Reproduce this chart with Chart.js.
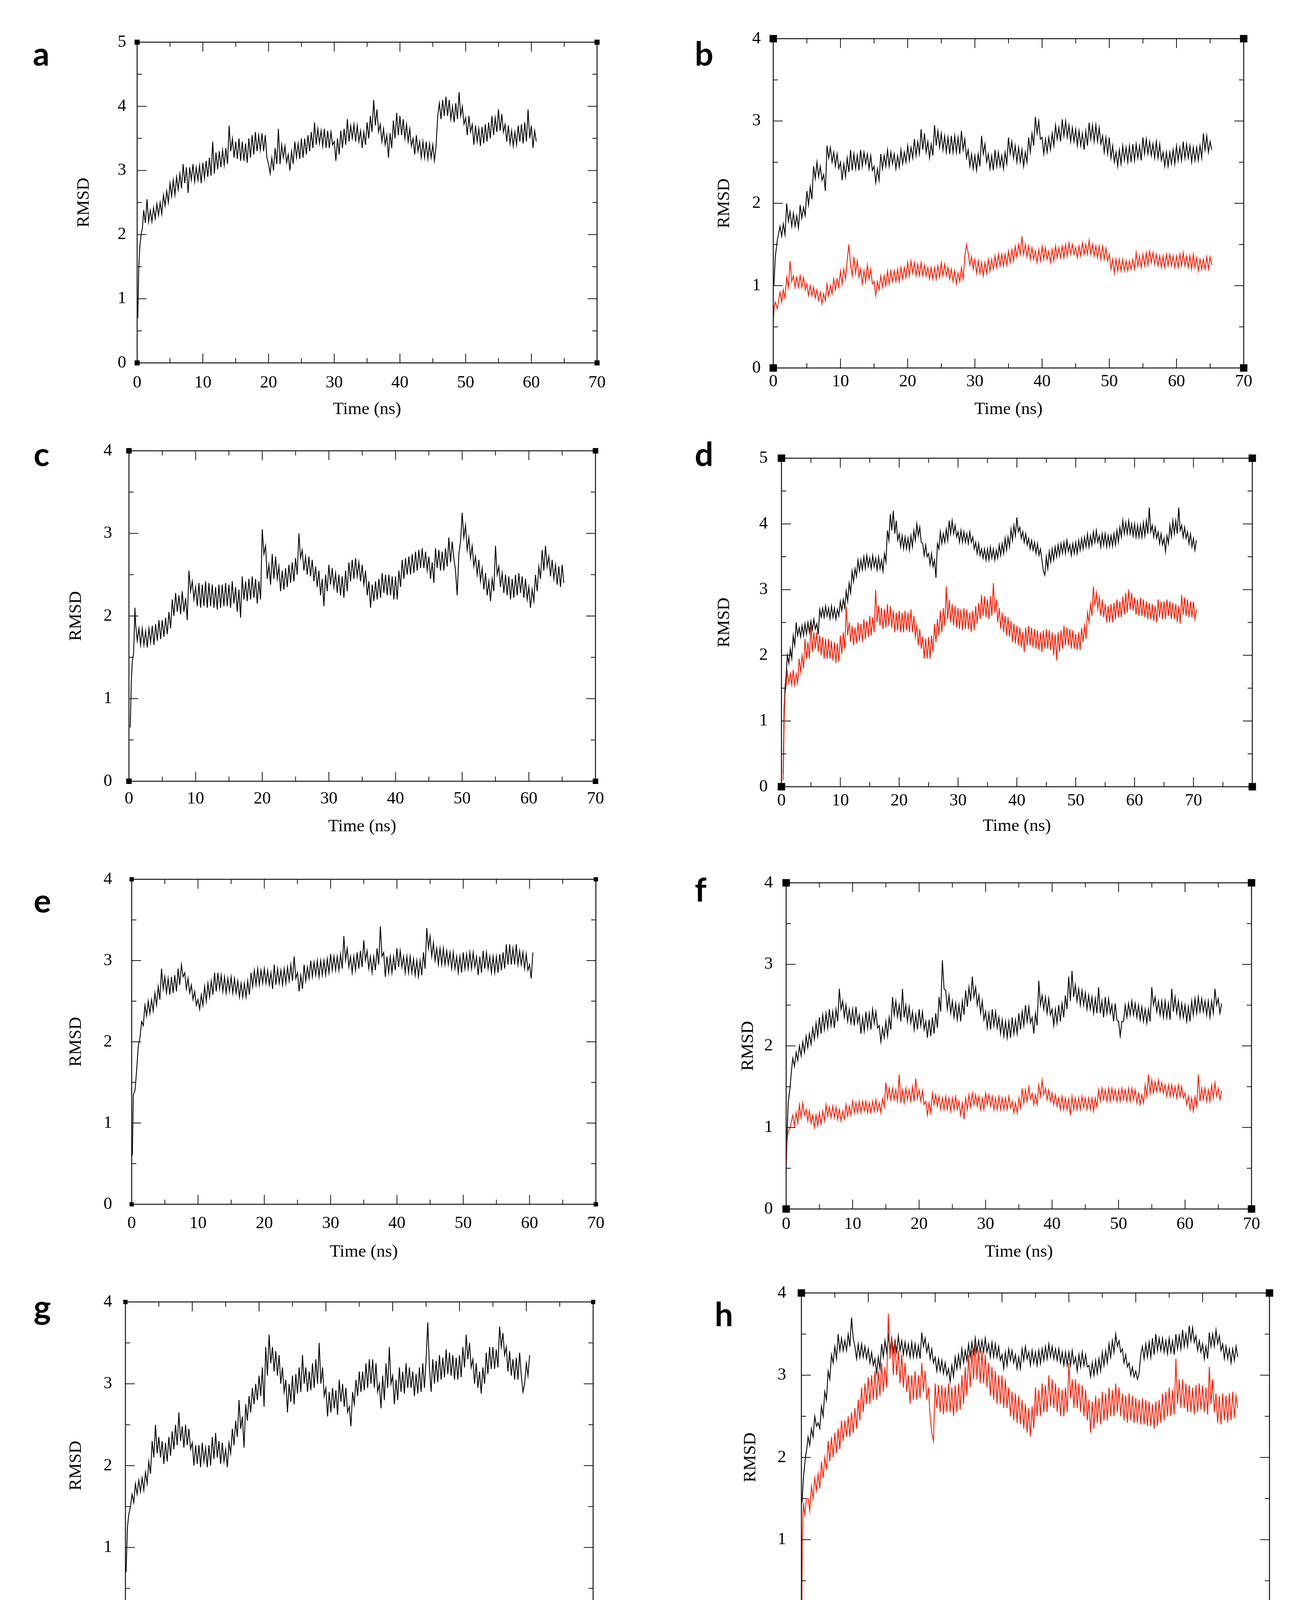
<!DOCTYPE html>
<html><head><meta charset="utf-8">
<script src="https://cdn.jsdelivr.net/npm/chart.js@4.4.1/dist/chart.umd.min.js"></script>
<style>
html,body{margin:0;padding:0;background:#fff;}
body{width:3345px;height:4369px;position:relative;overflow:hidden;}
canvas{position:absolute;}
.lbl{position:absolute;font-family:Lato,'Open Sans',sans-serif;font-weight:700;font-size:84px;line-height:84px;color:#000;}
</style></head><body>
<script>
// ---------- tick values / labels ----------
const xTicks70 = [0,10,20,30,40,50,60,70];
const xLabels70 = ['0','10','20','30','40','50','60','70'];
const xMinor70 = [5,15,25,35,45,55,65];
const xTicks80 = [0,10,20,30,40,50,60,70,80];
const xLabels80 = ['0','10','20','30','40','50','60','70',''];
const xMinor80 = [5,15,25,35,45,55,65,75];
const yTicks5 = [0,1,2,3,4,5];
const yMinor5 = [0.5,1.5,2.5,3.5,4.5];
const yTicks4 = [0,1,2,3,4];
const yMinor4 = [0.5,1.5,2.5,3.5];
const xTitle = 'Time (ns)';
const yTitle = 'RMSD';
const T0 = 1.0, STEP = 0.25;   // main value arrays are sampled every 0.25 ns from 1.0 ns

// ---------- panel a ----------
const aHeadT = [0.1,0.25,0.4,0.6,0.8];
const aHeadY = [0.7,1.5,1.8,2.0,2.1];
const aVals = [2.38,2.18,2.55,2.2, 2.38,2.2,2.42,2.25, 2.48,2.3,2.5,2.32, 2.62,2.45,2.68,2.5, 2.8,2.6,2.85,2.62,
2.9,2.7,2.95,2.72, 3.1,2.8,3.05,2.65, 3.05,2.85,3.1,2.82, 3.05,2.85,3.08,2.8, 3.12,2.88,3.15,2.9,
3.2,2.92,3.45,2.95, 3.28,3.02,3.3,3.05, 3.32,3.08,3.35,3.1, 3.7,3.3,3.5,3.2, 3.45,3.18,3.5,3.15,
3.45,3.15,3.42,3.12, 3.5,3.2,3.55,3.25, 3.6,3.3,3.55,3.32, 3.58,3.3,3.55,3.2, 3.1,2.95,3.2,3.0,
3.35,3.1,3.65,3.1, 3.4,3.2,3.38,3.12, 3.25,3.0,3.3,3.1, 3.45,3.2,3.42,3.18, 3.5,3.2,3.5,3.25,
3.55,3.3,3.6,3.35, 3.75,3.4,3.65,3.42, 3.62,3.38,3.65,3.35, 3.62,3.35,3.6,3.4, 3.45,3.15,3.5,3.25,
3.62,3.35,3.65,3.4, 3.8,3.45,3.7,3.5, 3.72,3.45,3.7,3.45, 3.62,3.35,3.6,3.4, 3.75,3.5,3.85,3.6,
4.1,3.7,3.95,3.6, 3.72,3.45,3.65,3.4, 3.55,3.2,3.58,3.35, 3.78,3.5,3.9,3.55, 3.85,3.55,3.8,3.5,
3.72,3.45,3.65,3.38, 3.5,3.25,3.55,3.3, 3.45,3.2,3.45,3.2, 3.45,3.18,3.42,3.2, 3.4,3.15,3.38,3.85,
4.05,3.8,4.1,3.85, 4.15,3.85,4.1,3.8, 4.0,3.75,4.05,3.8, 4.22,3.85,4.0,3.72, 3.82,3.55,3.85,3.6,
3.72,3.4,3.7,3.45, 3.65,3.38,3.68,3.42, 3.72,3.45,3.75,3.5, 3.85,3.55,3.82,3.6, 3.95,3.62,3.88,3.6,
3.72,3.45,3.7,3.42, 3.62,3.38,3.6,3.4, 3.7,3.45,3.72,3.42, 3.75,3.45,3.95,3.5, 3.7,3.35,3.62,3.45];

// ---------- panel b ----------
const bBlackHeadT = [0.1,0.3,0.6];
const bBlackHeadY = [1.0,1.35,1.55];
const bBlackVals = [1.72,1.6,1.75,1.62, 2.0,1.78,1.9,1.72, 1.88,1.72,1.85,1.7, 1.98,1.82,1.95,1.85, 2.15,1.98,2.2,2.05,
2.45,2.3,2.5,2.32, 2.45,2.28,2.35,2.15, 2.7,2.55,2.68,2.5, 2.62,2.45,2.6,2.42, 2.5,2.28,2.48,2.32,
2.55,2.38,2.65,2.4, 2.6,2.42,2.58,2.4, 2.65,2.45,2.62,2.48, 2.6,2.42,2.58,2.4, 2.45,2.25,2.42,2.28,
2.6,2.42,2.58,2.45, 2.65,2.45,2.62,2.48, 2.6,2.42,2.58,2.44, 2.65,2.48,2.62,2.5, 2.7,2.52,2.68,2.55,
2.78,2.58,2.75,2.6, 2.9,2.65,2.85,2.62, 2.75,2.55,2.72,2.58, 2.95,2.7,2.88,2.68, 2.85,2.65,2.82,2.62,
2.8,2.6,2.82,2.62, 2.82,2.62,2.8,2.6, 2.88,2.65,2.78,2.55, 2.65,2.45,2.6,2.42, 2.58,2.4,2.6,2.45,
2.82,2.6,2.72,2.5, 2.6,2.42,2.58,2.4, 2.65,2.45,2.62,2.45, 2.58,2.42,2.62,2.48, 2.8,2.6,2.75,2.55,
2.7,2.5,2.68,2.5, 2.65,2.45,2.62,2.5, 2.8,2.62,2.85,2.7, 3.05,2.85,3.0,2.78, 2.8,2.6,2.78,2.62,
2.8,2.65,2.85,2.7, 2.95,2.78,2.92,2.75, 3.02,2.82,3.0,2.8, 2.95,2.75,2.92,2.75, 2.9,2.7,2.88,2.7,
2.85,2.65,2.88,2.7, 2.98,2.78,2.95,2.75, 2.95,2.75,2.92,2.72, 2.82,2.62,2.8,2.6, 2.8,2.55,2.7,2.5,
2.62,2.45,2.65,2.48, 2.7,2.52,2.68,2.5, 2.7,2.5,2.72,2.52, 2.72,2.55,2.7,2.52, 2.8,2.6,2.78,2.6,
2.75,2.58,2.72,2.55, 2.75,2.55,2.72,2.52, 2.62,2.45,2.62,2.45, 2.62,2.48,2.65,2.48, 2.7,2.52,2.68,2.52,
2.75,2.55,2.72,2.55, 2.7,2.5,2.68,2.52, 2.68,2.52,2.7,2.55, 2.85,2.65,2.82,2.62, 2.75,2.65];
const bRedHeadT = [0.0,0.15,0.3,0.6];
const bRedHeadY = [0.55,0.75,0.8,0.72];
const bRedVals = [0.92,0.8,0.95,0.85, 1.1,0.98,1.3,1.05, 1.12,0.98,1.1,0.98, 1.12,0.98,1.1,0.95, 1.02,0.88,1.0,0.88,
0.98,0.85,0.95,0.82, 0.92,0.78,0.9,0.82, 1.02,0.88,1.0,0.9, 1.08,0.95,1.08,0.98, 1.18,1.02,1.2,1.08,
1.3,1.5,1.25,1.12, 1.35,1.15,1.3,1.1, 1.2,1.02,1.18,1.05, 1.25,1.08,1.2,1.02, 1.05,0.88,1.05,0.95,
1.12,0.98,1.12,1.0, 1.18,1.02,1.18,1.05, 1.18,1.05,1.2,1.05, 1.22,1.08,1.22,1.1, 1.28,1.12,1.3,1.15,
1.28,1.12,1.26,1.12, 1.28,1.12,1.25,1.12, 1.22,1.08,1.22,1.08, 1.22,1.08,1.24,1.1, 1.28,1.12,1.26,1.12,
1.22,1.08,1.2,1.05, 1.18,1.02,1.15,1.05, 1.22,1.08,1.35,1.5, 1.4,1.25,1.35,1.2, 1.32,1.15,1.3,1.15,
1.28,1.12,1.28,1.15, 1.32,1.18,1.32,1.2, 1.36,1.22,1.38,1.24, 1.38,1.24,1.38,1.25, 1.42,1.28,1.44,1.3,
1.48,1.35,1.5,1.38, 1.6,1.38,1.5,1.35, 1.48,1.32,1.46,1.32, 1.42,1.28,1.44,1.3, 1.48,1.32,1.46,1.32,
1.42,1.28,1.44,1.3, 1.48,1.34,1.46,1.34, 1.48,1.34,1.5,1.36, 1.52,1.38,1.5,1.38, 1.46,1.34,1.48,1.36,
1.52,1.38,1.5,1.38, 1.55,1.38,1.5,1.36, 1.48,1.34,1.48,1.32, 1.48,1.32,1.45,1.3, 1.38,1.2,1.32,1.15,
1.32,1.18,1.32,1.18, 1.32,1.18,1.3,1.18, 1.3,1.2,1.32,1.2, 1.4,1.24,1.36,1.22, 1.38,1.24,1.4,1.25,
1.42,1.28,1.4,1.26, 1.38,1.24,1.36,1.22, 1.36,1.22,1.38,1.24, 1.38,1.24,1.36,1.22, 1.36,1.22,1.38,1.24,
1.4,1.24,1.36,1.22, 1.36,1.2,1.38,1.22, 1.34,1.18,1.32,1.2, 1.32,1.2,1.35,1.2, 1.35,1.25];

// ---------- panel c ----------
const cHeadT = [0.2,0.35,0.5,0.7,0.9];
const cHeadY = [0.65,1.2,1.45,1.55,2.1];
const cVals = [1.9,1.7,1.85,1.65, 1.85,1.65,1.82,1.62, 1.85,1.68,1.88,1.65, 1.9,1.7,1.95,1.72, 1.95,1.75,1.98,1.78,
2.05,1.85,2.2,2.0, 2.28,2.05,2.25,2.02, 2.3,2.05,2.22,1.95, 2.55,2.3,2.42,2.2, 2.35,2.12,2.4,2.1,
2.38,2.12,2.42,2.1, 2.4,2.12,2.38,2.1, 2.35,2.08,2.38,2.1, 2.38,2.12,2.4,2.12, 2.38,2.1,2.42,2.15,
2.35,2.05,2.32,1.98, 2.48,2.2,2.42,2.18, 2.45,2.2,2.48,2.22, 2.45,2.15,2.42,2.2, 3.05,2.75,2.85,2.45,
2.62,2.38,2.75,2.45, 2.72,2.45,2.6,2.3, 2.55,2.32,2.58,2.35, 2.62,2.4,2.65,2.42, 2.7,2.5,3.0,2.7,
2.8,2.55,2.72,2.5, 2.72,2.48,2.68,2.42, 2.6,2.35,2.55,2.25, 2.45,2.12,2.5,2.3, 2.62,2.38,2.58,2.35,
2.52,2.28,2.5,2.25, 2.48,2.22,2.55,2.3, 2.65,2.42,2.68,2.45, 2.7,2.48,2.65,2.42, 2.62,2.38,2.55,2.25,
2.42,2.1,2.38,2.18, 2.42,2.2,2.45,2.22, 2.52,2.28,2.5,2.25, 2.5,2.25,2.48,2.2, 2.48,2.2,2.55,2.35,
2.68,2.45,2.7,2.5, 2.72,2.5,2.75,2.52, 2.78,2.55,2.8,2.58, 2.82,2.58,2.78,2.55, 2.72,2.45,2.65,2.4,
2.82,2.58,2.8,2.55, 2.78,2.55,2.82,2.6, 2.95,2.65,2.9,2.7, 2.55,2.25,2.75,2.9, 3.25,2.95,3.1,2.8,
2.95,2.7,2.85,2.6, 2.72,2.5,2.68,2.42, 2.58,2.32,2.52,2.25, 2.42,2.18,2.45,2.3, 2.85,2.5,2.6,2.35,
2.52,2.28,2.5,2.25, 2.48,2.2,2.45,2.22, 2.5,2.25,2.52,2.28, 2.48,2.22,2.45,2.2, 2.35,2.1,2.32,2.18,
2.5,2.3,2.6,2.45, 2.8,2.55,2.85,2.6, 2.72,2.48,2.68,2.45, 2.62,2.38,2.6,2.35, 2.62,2.4];

// ---------- panel d ----------
const dBlackHeadT = [0.3,0.45,0.6,0.8];
const dBlackHeadY = [0.2,1.2,1.5,1.7];
const dBlackVals = [2.0,1.88,2.1,1.95, 2.3,2.15,2.5,2.3, 2.42,2.28,2.45,2.3, 2.48,2.32,2.5,2.35, 2.52,2.38,2.55,2.4,
2.48,2.32,2.7,2.58, 2.72,2.58,2.75,2.6, 2.72,2.56,2.75,2.58, 2.72,2.55,2.7,2.6, 2.82,2.68,2.85,2.72,
2.98,2.82,3.1,2.95, 3.28,3.12,3.32,3.2, 3.45,3.28,3.45,3.3, 3.5,3.32,3.52,3.35, 3.48,3.32,3.52,3.35,
3.48,3.3,3.5,3.32, 3.45,3.28,3.55,3.42, 3.9,3.75,4.15,3.9, 4.2,3.85,4.05,3.75, 3.85,3.65,3.82,3.62,
3.8,3.62,3.78,3.6, 3.82,3.65,3.9,3.75, 4.0,3.82,3.95,3.72, 3.7,3.52,3.68,3.5, 3.55,3.38,3.55,3.35,
3.45,3.18,3.7,3.62, 3.88,3.7,3.85,3.72, 3.92,3.75,4.05,3.85, 4.05,3.85,3.98,3.8, 3.88,3.72,3.9,3.72,
3.88,3.72,3.85,3.7, 3.88,3.72,3.8,3.62, 3.72,3.55,3.7,3.52, 3.62,3.48,3.62,3.45, 3.62,3.45,3.65,3.48,
3.62,3.45,3.6,3.48, 3.68,3.52,3.7,3.55, 3.78,3.6,3.8,3.65, 3.92,3.75,3.98,3.82, 4.1,3.88,3.95,3.78,
3.88,3.72,3.85,3.68, 3.78,3.62,3.75,3.6, 3.72,3.55,3.7,3.52, 3.62,3.45,3.28,3.22, 3.5,3.32,3.58,3.42,
3.62,3.45,3.65,3.5, 3.68,3.52,3.7,3.55, 3.72,3.55,3.75,3.58, 3.68,3.52,3.7,3.55, 3.72,3.55,3.75,3.6,
3.78,3.62,3.8,3.65, 3.85,3.65,3.82,3.68, 3.88,3.72,3.9,3.72, 3.82,3.65,3.85,3.68, 3.85,3.65,3.82,3.66,
3.82,3.66,3.85,3.68, 3.9,3.72,3.95,3.8, 4.05,3.85,4.02,3.85, 4.05,3.85,4.0,3.82, 4.0,3.8,3.98,3.8,
3.98,3.8,4.02,3.82, 4.05,3.85,4.25,3.88, 3.98,3.8,3.95,3.78, 3.88,3.7,3.85,3.68, 3.78,3.58,3.82,3.7,
3.98,3.8,4.05,3.85, 4.05,3.85,4.25,3.9, 3.98,3.8,3.95,3.78, 3.88,3.7,3.85,3.65, 3.78,3.6,3.75];
const dRedHeadT = [0.3,0.45,0.6,0.8];
const dRedHeadY = [0.1,1.0,1.4,1.55];
const dRedVals = [1.75,1.58,1.72,1.55, 1.78,1.55,1.72,1.58, 1.95,1.75,2.0,1.8, 2.25,1.95,2.2,1.95, 2.45,2.05,2.35,2.1,
2.35,2.05,2.3,2.0, 2.28,1.95,2.25,1.95, 2.25,1.95,2.22,1.92, 2.2,1.88,2.18,1.9, 2.3,2.02,2.35,2.1,
2.75,2.3,2.5,2.2, 2.45,2.15,2.42,2.18, 2.5,2.22,2.48,2.2, 2.55,2.25,2.52,2.28, 2.6,2.3,2.58,2.35,
3.0,2.5,2.75,2.45, 2.72,2.4,2.7,2.42, 2.78,2.45,2.75,2.42, 2.68,2.35,2.65,2.38, 2.68,2.35,2.65,2.35,
2.68,2.38,2.65,2.35, 2.7,2.35,2.6,2.28, 2.45,2.15,2.4,2.1, 2.28,1.95,2.25,1.95, 2.28,1.95,2.3,2.05,
2.48,2.2,2.55,2.3, 2.68,2.35,2.72,2.45, 3.05,2.55,2.85,2.5, 2.78,2.45,2.75,2.42, 2.72,2.4,2.7,2.38,
2.72,2.4,2.7,2.4, 2.65,2.35,2.68,2.38, 2.75,2.48,2.8,2.55, 2.92,2.6,2.9,2.58, 2.85,2.55,2.9,2.6,
3.1,2.65,2.85,2.5, 2.72,2.4,2.65,2.35, 2.6,2.3,2.58,2.28, 2.52,2.2,2.48,2.18, 2.45,2.15,2.42,2.12,
2.35,2.05,2.42,2.15, 2.45,2.15,2.42,2.12, 2.4,2.1,2.38,2.08, 2.35,2.05,2.38,2.1, 2.4,2.1,2.38,2.08,
2.35,2.0,2.32,1.92, 2.35,2.05,2.38,2.1, 2.45,2.15,2.42,2.15, 2.4,2.1,2.38,2.1, 2.32,2.08,2.35,2.08,
2.42,2.2,2.45,2.25, 2.65,2.5,2.78,2.6, 3.05,2.75,2.95,2.7, 2.88,2.6,2.85,2.58, 2.78,2.5,2.75,2.5,
2.78,2.5,2.8,2.55, 2.85,2.58,2.82,2.58, 2.9,2.62,2.95,2.65, 3.0,2.7,2.95,2.68, 2.88,2.62,2.85,2.6,
2.88,2.6,2.85,2.58, 2.82,2.55,2.8,2.55, 2.78,2.52,2.75,2.5, 2.85,2.58,2.82,2.55, 2.82,2.55,2.85,2.6,
2.82,2.55,2.8,2.55, 2.78,2.5,2.75,2.48, 2.92,2.62,2.88,2.6, 2.85,2.58,2.82,2.58, 2.82,2.55,2.7];

// ---------- panel e ----------
const eHeadT = [0.1,0.25,0.5,0.75];
const eHeadY = [0.6,1.35,1.4,1.65];
const eVals = [1.95,2.05,2.25,2.2, 2.45,2.32,2.5,2.35, 2.52,2.38,2.6,2.45, 2.68,2.52,2.9,2.65, 2.8,2.6,2.78,2.58,
2.8,2.6,2.82,2.62, 2.9,2.7,2.95,2.8, 2.85,2.65,2.78,2.6, 2.7,2.52,2.62,2.45, 2.52,2.4,2.58,2.45,
2.68,2.5,2.72,2.55, 2.75,2.58,2.85,2.62, 2.85,2.65,2.82,2.62, 2.8,2.6,2.78,2.62, 2.8,2.6,2.78,2.6,
2.75,2.55,2.72,2.55, 2.72,2.55,2.75,2.58, 2.85,2.68,2.88,2.7, 2.9,2.7,2.88,2.72, 2.9,2.72,2.88,2.7,
2.85,2.65,2.95,2.7, 2.9,2.72,2.88,2.7, 2.9,2.72,2.92,2.75, 2.95,2.75,3.05,2.78, 2.85,2.62,2.82,2.65,
2.95,2.75,2.92,2.78, 3.0,2.8,2.98,2.82, 3.0,2.8,3.0,2.82, 3.0,2.82,3.02,2.85, 3.08,2.88,3.05,2.88,
3.05,2.88,3.08,2.9, 3.3,3.0,3.15,2.92, 3.05,2.85,3.05,2.88, 3.1,2.9,3.12,2.92, 3.25,3.0,3.12,2.9,
3.05,2.85,3.05,2.88, 3.15,2.95,3.42,3.05, 3.1,2.8,3.05,2.85, 3.05,2.85,3.05,2.88, 3.15,2.92,3.12,2.92,
3.05,2.85,3.05,2.85, 3.05,2.85,3.02,2.82, 3.0,2.8,3.0,2.82, 3.1,2.9,3.4,3.15, 3.3,3.05,3.22,3.0,
3.15,2.95,3.15,2.95, 3.15,2.95,3.12,2.95, 3.1,2.9,3.1,2.9, 3.05,2.85,3.05,2.85, 3.1,2.9,3.08,2.9,
3.1,2.9,3.1,2.92, 3.05,2.82,3.05,2.85, 3.12,2.9,3.1,2.9, 3.05,2.85,3.05,2.85, 3.05,2.85,3.08,2.88,
3.1,2.9,3.2,2.95, 3.2,2.95,3.15,2.95, 3.2,2.95,3.12,2.95, 3.1,2.9,3.08,2.88, 2.95,2.78,3.1];

// ---------- panel f ----------
const fBlackHeadT = [0.1,0.3,0.6,0.8];
const fBlackHeadY = [0.8,1.3,1.5,1.7];
const fBlackVals = [1.85,1.75,1.92,1.82, 2.0,1.88,2.05,1.92, 2.12,1.98,2.15,2.02, 2.22,2.08,2.28,2.12, 2.35,2.15,2.38,2.2,
2.4,2.22,2.45,2.25, 2.42,2.22,2.45,2.3, 2.7,2.45,2.55,2.35, 2.5,2.3,2.45,2.28, 2.45,2.25,2.48,2.28,
2.38,2.15,2.35,2.18, 2.42,2.22,2.4,2.2, 2.45,2.28,2.42,2.22, 2.25,2.05,2.22,2.1, 2.3,2.12,2.35,2.2,
2.6,2.38,2.55,2.35, 2.5,2.3,2.7,2.35, 2.5,2.3,2.48,2.28, 2.42,2.2,2.38,2.2, 2.45,2.25,2.42,2.2,
2.3,2.1,2.32,2.12, 2.35,2.15,2.4,2.22, 2.6,2.42,3.05,2.7, 2.68,2.45,2.62,2.4, 2.55,2.35,2.52,2.32,
2.5,2.3,2.55,2.38, 2.68,2.48,2.72,2.55, 2.85,2.6,2.72,2.5, 2.62,2.4,2.55,2.32, 2.42,2.22,2.4,2.2,
2.45,2.25,2.42,2.22, 2.35,2.15,2.32,2.12, 2.3,2.1,2.3,2.1, 2.35,2.15,2.32,2.15, 2.4,2.2,2.42,2.25,
2.5,2.3,2.48,2.28, 2.35,2.15,2.4,2.25, 2.8,2.5,2.62,2.45, 2.6,2.4,2.58,2.38, 2.45,2.25,2.45,2.28,
2.5,2.3,2.52,2.35, 2.62,2.45,2.85,2.55, 2.92,2.6,2.75,2.55, 2.7,2.5,2.68,2.5, 2.65,2.45,2.62,2.45,
2.6,2.4,2.58,2.4, 2.72,2.4,2.55,2.35, 2.6,2.4,2.58,2.4, 2.5,2.3,2.52,2.32, 2.3,2.12,2.3,2.3,
2.5,2.35,2.52,2.38, 2.55,2.38,2.52,2.35, 2.5,2.32,2.48,2.3, 2.45,2.28,2.45,2.3, 2.72,2.5,2.6,2.42,
2.55,2.38,2.55,2.35, 2.55,2.35,2.52,2.32, 2.7,2.42,2.6,2.4, 2.55,2.35,2.52,2.35, 2.5,2.3,2.48,2.3,
2.55,2.38,2.58,2.4, 2.6,2.42,2.58,2.42, 2.55,2.38,2.55,2.35, 2.55,2.4,2.7,2.5, 2.58,2.4,2.52];
const fRedHeadT = [0.0,0.15,0.3,0.6];
const fRedHeadY = [0.5,0.85,0.95,1.0];
const fRedVals = [1.15,1.02,1.18,1.05, 1.28,1.12,1.3,1.15, 1.22,1.08,1.2,1.05, 1.15,1.0,1.15,1.02, 1.18,1.04,1.2,1.08,
1.28,1.14,1.25,1.12, 1.26,1.12,1.25,1.1, 1.22,1.08,1.2,1.1, 1.28,1.14,1.26,1.15, 1.32,1.18,1.3,1.18,
1.32,1.18,1.32,1.2, 1.32,1.18,1.3,1.18, 1.32,1.2,1.34,1.2, 1.3,1.18,1.35,1.25, 1.55,1.35,1.48,1.34,
1.48,1.34,1.46,1.32, 1.65,1.3,1.45,1.3, 1.48,1.34,1.46,1.32, 1.5,1.32,1.6,1.36, 1.46,1.32,1.45,1.28,
1.32,1.15,1.3,1.18, 1.42,1.28,1.4,1.26, 1.38,1.22,1.36,1.22, 1.38,1.22,1.36,1.2, 1.36,1.22,1.38,1.22,
1.32,1.15,1.3,1.1, 1.36,1.22,1.4,1.25, 1.42,1.28,1.4,1.26, 1.38,1.22,1.36,1.22, 1.42,1.28,1.4,1.26,
1.38,1.22,1.36,1.22, 1.38,1.22,1.36,1.22, 1.36,1.22,1.38,1.24, 1.32,1.18,1.3,1.18, 1.36,1.24,1.48,1.3,
1.46,1.32,1.5,1.35, 1.42,1.28,1.4,1.28, 1.52,1.38,1.58,1.4, 1.48,1.34,1.46,1.32, 1.42,1.28,1.4,1.26,
1.36,1.22,1.38,1.22, 1.36,1.22,1.35,1.15, 1.38,1.22,1.36,1.22, 1.36,1.22,1.38,1.24, 1.36,1.22,1.36,1.22,
1.36,1.2,1.36,1.25, 1.46,1.32,1.48,1.34, 1.46,1.32,1.48,1.32, 1.48,1.34,1.46,1.32, 1.46,1.32,1.48,1.34,
1.46,1.32,1.48,1.32, 1.48,1.34,1.46,1.3, 1.42,1.28,1.4,1.3, 1.52,1.38,1.65,1.42, 1.58,1.42,1.56,1.44,
1.58,1.44,1.55,1.42, 1.52,1.38,1.52,1.38, 1.52,1.38,1.5,1.36, 1.52,1.38,1.5,1.36, 1.42,1.28,1.38,1.22,
1.36,1.2,1.38,1.26, 1.65,1.32,1.48,1.34, 1.48,1.32,1.46,1.32, 1.52,1.36,1.55,1.38, 1.48,1.34,1.45];

// ---------- panel g ----------
const gHeadT = [0.1,0.3,0.5,0.75];
const gHeadY = [0.7,1.25,1.4,1.5];
const gVals = [1.65,1.55,1.78,1.65, 1.82,1.68,1.85,1.7, 1.92,1.78,2.05,1.9, 2.3,2.1,2.5,2.15, 2.35,2.1,2.3,2.02,
2.28,2.05,2.35,2.12, 2.42,2.2,2.5,2.25, 2.65,2.3,2.48,2.22, 2.5,2.25,2.45,2.2, 2.28,2.0,2.25,2.02,
2.25,1.98,2.28,2.05, 2.22,1.98,2.25,2.0, 2.35,2.08,2.4,2.1, 2.3,2.02,2.28,2.05, 2.2,1.98,2.28,2.15,
2.45,2.25,2.55,2.35, 2.8,2.45,2.6,2.22, 2.75,2.55,2.85,2.65, 2.95,2.75,3.0,2.8, 3.1,2.85,3.2,2.72,
3.45,3.1,3.6,3.25, 3.45,3.15,3.4,3.1, 3.35,3.0,3.2,2.9, 3.05,2.65,3.0,2.78, 3.1,2.75,3.12,2.88,
3.2,2.9,3.35,3.0, 3.2,2.9,3.15,2.92, 3.25,2.95,3.3,3.0, 3.5,3.0,3.2,2.85, 2.95,2.6,2.9,2.65,
2.95,2.7,2.92,2.62, 3.05,2.78,3.0,2.72, 2.95,2.65,2.72,2.48, 2.9,2.75,3.05,2.85, 3.15,2.9,3.15,2.92,
3.25,2.95,3.3,3.0, 3.3,2.95,3.25,2.9, 3.0,2.7,3.1,2.8, 3.25,2.95,3.45,3.0, 3.1,2.75,3.05,2.8,
3.2,2.9,3.15,2.88, 3.25,2.95,3.2,2.95, 3.15,2.85,3.12,2.88, 3.2,2.9,3.25,2.95, 3.3,3.75,3.2,2.9,
3.3,3.0,3.28,3.02, 3.35,3.05,3.32,3.08, 3.42,3.12,3.38,3.1, 3.35,3.05,3.32,3.05, 3.35,3.08,3.45,3.2,
3.6,3.3,3.5,3.2, 3.3,3.0,3.25,2.95, 3.15,2.88,3.2,3.0, 3.38,3.12,3.45,3.18, 3.45,3.18,3.42,3.2,
3.7,3.45,3.62,3.35, 3.45,3.15,3.4,3.1, 3.3,3.05,3.32,3.05, 3.38,3.1,2.9,3.0, 3.25,3.1,3.35];

// ---------- panel h ----------
const hBlackHeadT = [0.1,0.3,0.6,0.8];
const hBlackHeadY = [1.45,1.75,2.0,2.1];
const hBlackVals = [2.25,2.15,2.35,2.25, 2.5,2.38,2.42,2.35, 2.62,2.5,2.8,2.7, 3.05,2.95,3.25,3.15, 3.35,3.2,3.5,3.3,
3.45,3.3,3.42,3.3, 3.5,3.35,3.7,3.45, 3.35,3.2,3.38,3.22, 3.38,3.22,3.35,3.2, 3.32,3.15,3.28,3.12,
3.2,3.02,3.22,3.08, 3.38,3.22,3.42,3.28, 3.48,3.3,3.45,3.28, 3.42,3.28,3.48,3.3, 3.42,3.25,3.4,3.25,
3.38,3.22,3.4,3.22, 3.38,3.22,3.36,3.2, 3.52,3.35,3.45,3.28, 3.38,3.2,3.32,3.15, 3.22,3.05,3.2,3.05,
3.18,3.02,3.15,3.0, 3.08,2.92,3.12,2.98, 3.22,3.08,3.25,3.1, 3.32,3.15,3.3,3.18, 3.38,3.22,3.4,3.25,
3.45,3.28,3.42,3.28, 3.42,3.28,3.45,3.28, 3.38,3.22,3.4,3.22, 3.38,3.22,3.35,3.18, 3.25,3.08,3.28,3.12,
3.32,3.18,3.3,3.15, 3.25,3.08,3.22,3.08, 3.32,3.18,3.35,3.2, 3.28,3.12,3.3,3.15, 3.28,3.12,3.3,3.14,
3.32,3.18,3.35,3.2, 3.38,3.22,3.35,3.2, 3.32,3.18,3.32,3.15, 3.28,3.12,3.28,3.12, 3.28,3.12,3.3,3.14,
3.22,3.05,3.25,3.1, 3.28,3.12,3.25,3.1, 3.12,2.98,3.15,3.0, 3.18,3.02,3.2,3.05, 3.28,3.12,3.3,3.15,
3.38,3.22,3.42,3.28, 3.5,3.35,3.42,3.28, 3.32,3.15,3.25,3.1, 3.15,3.0,3.1,2.98, 3.05,2.95,3.02,3.25,
3.35,3.2,3.38,3.22, 3.4,3.22,3.45,3.25, 3.5,3.3,3.45,3.3, 3.45,3.28,3.42,3.26, 3.45,3.28,3.42,3.25,
3.5,3.32,3.48,3.32, 3.55,3.35,3.5,3.35, 3.6,3.42,3.58,3.4, 3.48,3.3,3.42,3.28, 3.38,3.2,3.35,3.2,
3.52,3.35,3.5,3.35, 3.55,3.38,3.48,3.3, 3.38,3.2,3.35,3.2, 3.32,3.15,3.32,3.18, 3.35,3.22];
const hRedHeadT = [0.05,0.15,0.3,0.5,0.75];
const hRedHeadY = [0.1,1.0,1.45,1.3,1.5];
const hRedVals = [1.5,1.35,1.65,1.5, 1.75,1.6,1.8,1.62, 1.95,1.75,2.0,1.85, 2.2,1.95,2.25,2.0, 2.3,2.05,2.35,2.1,
2.45,2.2,2.45,2.25, 2.5,2.25,2.55,2.3, 2.6,2.35,2.7,2.45, 2.85,2.55,2.9,2.65, 2.98,2.65,3.0,2.7,
3.05,2.7,3.05,2.75, 3.15,2.8,3.1,2.85, 3.75,3.2,3.45,3.0, 3.4,3.0,3.3,2.9, 3.25,2.85,3.15,2.8,
3.0,2.65,3.0,2.7, 3.05,2.7,3.0,2.72, 3.15,2.8,3.05,2.7, 2.85,2.5,2.3,2.2, 2.9,2.6,2.88,2.55,
2.88,2.52,2.85,2.55, 2.9,2.55,2.85,2.5, 2.88,2.55,2.9,2.58, 3.0,2.65,3.1,2.75, 3.25,2.85,3.3,2.95,
3.4,2.95,3.3,2.9, 3.3,2.9,3.25,2.85, 3.15,2.75,3.1,2.7, 3.05,2.65,3.0,2.65, 3.0,2.6,2.95,2.6,
2.85,2.5,2.8,2.45, 2.78,2.42,2.75,2.4, 2.7,2.35,2.65,2.3, 2.6,2.25,2.62,2.35, 2.85,2.5,2.82,2.5,
2.9,2.55,2.88,2.55, 3.0,2.62,2.95,2.6, 2.9,2.55,2.85,2.5, 2.82,2.5,2.85,2.55, 3.15,2.72,2.95,2.6,
2.95,2.6,2.9,2.55, 2.88,2.5,2.82,2.45, 2.7,2.3,2.68,2.35, 2.75,2.42,2.72,2.4, 2.8,2.45,2.78,2.45,
2.85,2.5,2.82,2.5, 2.9,2.55,2.85,2.5, 2.78,2.45,2.75,2.42, 2.78,2.45,2.75,2.42, 2.72,2.42,2.7,2.4,
2.72,2.4,2.7,2.38, 2.68,2.38,2.65,2.35, 2.68,2.38,2.7,2.42, 2.78,2.45,2.8,2.5, 2.85,2.5,2.82,2.52,
3.2,2.65,2.95,2.6, 2.95,2.6,2.9,2.55, 2.88,2.55,2.85,2.52, 2.88,2.55,2.9,2.58, 2.88,2.55,2.85,2.52,
3.1,2.65,2.95,2.55, 2.78,2.42,2.75,2.4, 2.78,2.45,2.75,2.42, 2.78,2.45,2.8,2.48, 2.75,2.6];

// ---------- helpers ----------
function series(headT, headY, vals){
  const pts = headT.map((t,i)=>({x:t, y:headY[i]}));
  vals.forEach((v,i)=>pts.push({x:T0 + i*STEP, y:v}));
  return pts;
}
const BLACK = '#000000', RED = '#ff1a00';
const SERIF = "'Liberation Serif','DejaVu Serif',serif";

const framePlugin = {
  id:'frame',
  afterDatasetsDraw(chart, args, o){
    const c = chart.ctx, a = chart.chartArea, xs = chart.scales.x, ys = chart.scales.y;
    c.save();
    c.strokeStyle = '#111'; c.lineWidth = 2.5;
    c.strokeRect(a.left, a.top, a.right-a.left, a.bottom-a.top);
    c.lineWidth = 2;
    c.beginPath();
    const xt = (vals, len) => vals.forEach(v => { const p = xs.getPixelForValue(v);
      c.moveTo(p, a.bottom); c.lineTo(p, a.bottom-len); c.moveTo(p, a.top); c.lineTo(p, a.top+len); });
    const yt = (vals, len) => vals.forEach(v => { const p = ys.getPixelForValue(v);
      c.moveTo(a.left, p); c.lineTo(a.left+len, p); c.moveTo(a.right, p); c.lineTo(a.right-len, p); });
    xt(o.xMajor, 24); xt(o.xMinor, 12); yt(o.yMajor, 24); yt(o.yMinor, 12);
    c.stroke();
    c.fillStyle = '#000';
    const s = o.corner;
    [[a.left,a.top],[a.right,a.top],[a.left,a.bottom],[a.right,a.bottom]].forEach(([x,y]) => c.fillRect(x-s/2, y-s/2, s, s));
    c.restore();
  }
};
Chart.register(framePlugin);

const AXW = 260, AXH = 180, PT = 100, PR = 60;

function makePanel(p){
  const cv = document.createElement('canvas');
  const W = (p.R - p.L) + AXW + PR, H = (p.B - p.T) + PT + AXH;
  cv.width = W; cv.height = H;
  cv.style.left = (p.L - AXW) + 'px'; cv.style.top = (p.T - PT) + 'px';
  cv.style.width = W + 'px'; cv.style.height = H + 'px';
  document.body.appendChild(cv);
  const lbl = document.createElement('div');
  lbl.className = 'lbl'; lbl.textContent = p.letter;
  lbl.style.left = p.lx + 'px'; lbl.style.top = (p.lb - 74) + 'px';
  document.body.appendChild(lbl);
  const tickFont = {family: SERIF, size: 44, lineHeight: 1.2};
  const datasets = p.series.map(s => ({data: s.data, borderColor: s.color, borderWidth: 2.2, order: s.order,
    pointRadius: 0, tension: 0, borderJoinStyle: 'miter', fill: false}));
  new Chart(cv, {
    type: 'line',
    data: {datasets},
    options: {
      responsive: false, animation: false, devicePixelRatio: 1,
      layout: {padding: {left: 0, top: PT, right: PR, bottom: 0}},
      plugins: {legend: {display: false}, tooltip: {enabled: false},
        frame: {xMajor: p.xMajor, xMinor: p.xMinor, yMajor: p.yMajor, yMinor: p.yMinor, corner: p.corner}},
      scales: {
        x: {type: 'linear', min: 0, max: p.xMajor[p.xMajor.length-1],
          afterBuildTicks: s => { s.ticks = p.xMajor.map(v => ({value: v})); },
          ticks: {autoSkip: false, maxRotation: 0, color: '#000', font: tickFont, padding: p.xOff - 26,
            callback: (v) => p.xLabels[p.xMajor.indexOf(v)]},
          grid: {display: false, drawTicks: false}, border: {display: false},
          title: {display: true, text: xTitle, color: '#000', font: {family: SERIF, size: 45, lineHeight: 1.2},
            padding: {top: 0, bottom: AXH - (p.timeY - p.B) - 27}},
          afterFit: s => { s.height = AXH; }},
        y: {type: 'linear', min: 0, max: p.yMajor[p.yMajor.length-1],
          afterBuildTicks: s => { s.ticks = p.yMajor.map(v => ({value: v})); },
          ticks: {autoSkip: false, color: '#000', font: tickFont, padding: p.yPad,
            callback: (v) => String(v)},
          grid: {display: false, drawTicks: false}, border: {display: false},
          title: {display: true, text: yTitle, color: '#000', font: {family: SERIF, size: 45, lineHeight: 1.2},
            padding: {top: p.rmsdX - (p.L - AXW) - 27, bottom: 0}},
          afterFit: s => { s.width = AXW; }}
      }
    }
  });
}

const panels = [
  {letter:'a', lx:84, lb:168, L:351, R:1528, T:108, B:929, rmsdX:215, timeY:1048, yPad:28, xOff:51, corner:13,
   xMajor:xTicks70, xLabels:xLabels70, xMinor:xMinor70, yMajor:yTicks5, yMinor:yMinor5,
   series:[{data:series(aHeadT,aHeadY,aVals), color:BLACK, order:1}]},
  {letter:'b', lx:1778, lb:168, L:1979, R:3183, T:99, B:942, rmsdX:1854, timeY:1048, yPad:32, xOff:35, corner:19,
   xMajor:xTicks70, xLabels:xLabels70, xMinor:xMinor70, yMajor:yTicks4, yMinor:yMinor4,
   series:[{data:series(bBlackHeadT,bBlackHeadY,bBlackVals), color:BLACK, order:1},
           {data:series(bRedHeadT,bRedHeadY,bRedVals), color:RED, order:0}]},
  {letter:'c', lx:86, lb:1193, L:330, R:1524, T:1154, B:2000, rmsdX:195, timeY:2116, yPad:43, xOff:45, corner:14,
   xMajor:xTicks70, xLabels:xLabels70, xMinor:xMinor70, yMajor:yTicks4, yMinor:yMinor4,
   series:[{data:series(cHeadT,cHeadY,cVals), color:BLACK, order:1}]},
  {letter:'d', lx:1778, lb:1193, L:2000, R:3205, T:1173, B:2014, rmsdX:1854, timeY:2115, yPad:35, xOff:36, corner:19,
   xMajor:xTicks80, xLabels:xLabels80, xMinor:xMinor80, yMajor:yTicks5, yMinor:yMinor5,
   series:[{data:series(dBlackHeadT,dBlackHeadY,dBlackVals), color:BLACK, order:1},
           {data:series(dRedHeadT,dRedHeadY,dRedVals), color:RED, order:0}]},
  {letter:'e', lx:86, lb:2336, L:337, R:1525, T:2251, B:3083, rmsdX:195, timeY:3205, yPad:50, xOff:49, corner:11,
   xMajor:xTicks70, xLabels:xLabels70, xMinor:xMinor70, yMajor:yTicks4, yMinor:yMinor4,
   series:[{data:series(eHeadT,eHeadY,eVals), color:BLACK, order:1}]},
  {letter:'f', lx:1778, lb:2308, L:2012, R:3203, T:2260, B:3095, rmsdX:1915, timeY:3205, yPad:34, xOff:39, corner:19,
   xMajor:xTicks70, xLabels:xLabels70, xMinor:xMinor70, yMajor:yTicks4, yMinor:yMinor4,
   series:[{data:series(fBlackHeadT,fBlackHeadY,fBlackVals), color:BLACK, order:1},
           {data:series(fRedHeadT,fRedHeadY,fRedVals), color:RED, order:0}]},
  {letter:'g', lx:86, lb:3376, L:321, R:1518, T:3333, B:4171, rmsdX:195, timeY:4294, yPad:34, xOff:51, corner:11,
   xMajor:xTicks70, xLabels:xLabels70, xMinor:xMinor70, yMajor:yTicks4, yMinor:yMinor4,
   series:[{data:series(gHeadT,gHeadY,gVals), color:BLACK, order:1}]},
  {letter:'h', lx:1829, lb:3395, L:2051, R:3249, T:3310, B:4152, rmsdX:1921, timeY:4252, yPad:39, xOff:40, corner:19,
   xMajor:xTicks70, xLabels:xLabels70, xMinor:xMinor70, yMajor:yTicks4, yMinor:yMinor4,
   series:[{data:series(hBlackHeadT,hBlackHeadY,hBlackVals), color:BLACK, order:1},
           {data:series(hRedHeadT,hRedHeadY,hRedVals), color:RED, order:0}]}
];
panels.forEach(makePanel);
</script></body></html>
